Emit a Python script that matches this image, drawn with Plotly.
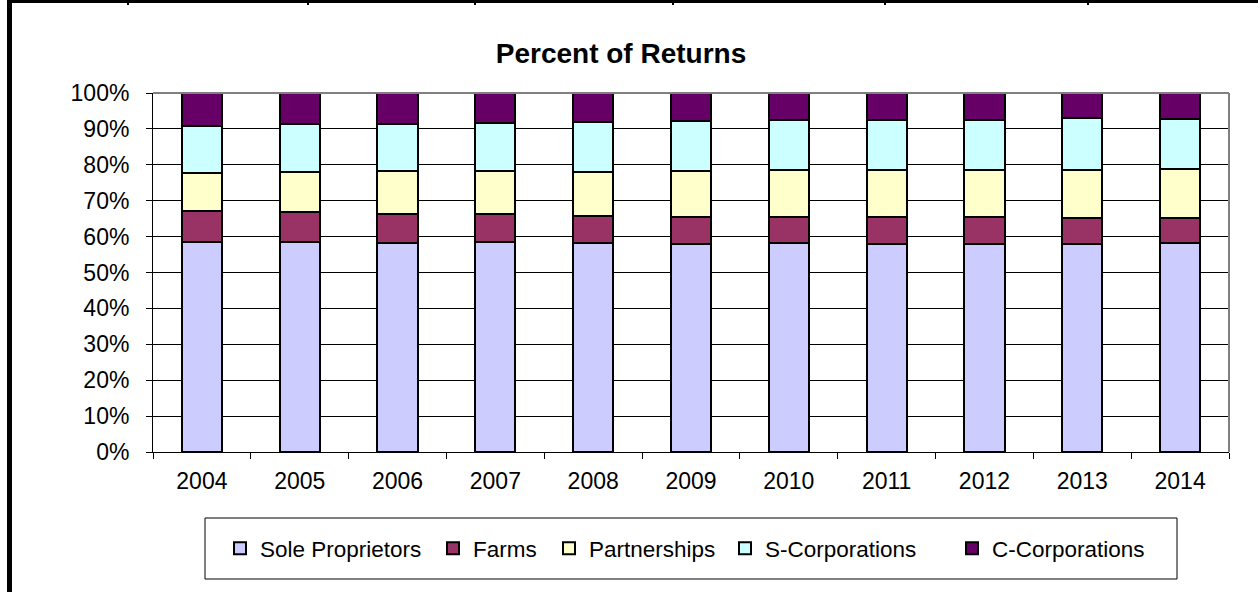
import plotly.graph_objects as go

years = ["2004", "2005", "2006", "2007", "2008", "2009", "2010", "2011", "2012", "2013", "2014"]
sole_proprietors = [58.4, 58.4, 58.3, 58.5, 58.1, 57.9, 58.1, 57.9, 57.9, 57.9, 58.2]
farms = [8.8, 8.5, 8.0, 7.8, 7.7, 7.6, 7.5, 7.6, 7.5, 7.4, 7.1]
partnerships = [10.5, 11.0, 11.9, 12.1, 12.2, 12.9, 13.0, 13.1, 13.2, 13.3, 13.5]
s_corporations = [13.1, 13.4, 13.3, 13.3, 13.8, 13.7, 13.8, 13.9, 14.0, 14.3, 14.0]
c_corporations = [9.2, 8.7, 8.5, 8.3, 8.2, 7.9, 7.6, 7.5, 7.4, 7.1, 7.2]

series = [
    ("Sole Proprietors", sole_proprietors, "#CCCCFF"),
    ("Farms", farms, "#993366"),
    ("Partnerships", partnerships, "#FFFFCC"),
    ("S-Corporations", s_corporations, "#CCFFFF"),
    ("C-Corporations", c_corporations, "#660066"),
]
# where each legend entry's text starts (px), one legend per series
legend_text_x = [260, 473, 589, 765, 992]

W, H = 1258, 592
L, R, T, B = 153, 29, 93, 140
pw, ph = W - L - R, H - T - B


# pixel -> paper coords, for the decorations drawn around the chart
def px(x):
    return (x - L) / pw


def py(y):
    return (H - B - y) / ph


fig = go.Figure()
for i, (name, vals, col) in enumerate(series):
    fig.add_trace(go.Bar(x=years, y=vals, name=name, marker_color=col,
                         marker_line=dict(color="black", width=2),
                         legend="legend" if i == 0 else "legend%d" % (i + 1)))

shapes = []
# plot-area border (grey top and right)
shapes.append(dict(type="line", xref="paper", yref="paper", x0=0, x1=1, y0=1, y1=1,
                   line=dict(color="#808080", width=2)))
shapes.append(dict(type="line", xref="paper", yref="paper", x0=1, x1=1, y0=0, y1=1,
                   line=dict(color="#808080", width=2)))
# legend frame
shapes.append(dict(type="rect", xref="paper", yref="paper", x0=px(205), x1=px(1177),
                   y0=py(579), y1=py(518), line=dict(color="black", width=1)))
# spreadsheet cell borders around the chart
shapes.append(dict(type="rect", xref="paper", yref="paper", x0=px(7), x1=px(12),
                   y0=py(592), y1=py(0), fillcolor="black", line=dict(width=0)))
shapes.append(dict(type="rect", xref="paper", yref="paper", x0=px(7), x1=px(1258),
                   y0=py(3), y1=py(0), fillcolor="black", line=dict(width=0)))
for xd in [128, 308, 475, 673, 885, 1088]:
    shapes.append(dict(type="rect", xref="paper", yref="paper", x0=px(xd - 1), x1=px(xd + 1),
                       y0=py(5), y1=py(0), fillcolor="black", line=dict(width=0)))

layout_legends = {}
for i, tx in enumerate(legend_text_x):
    key = "legend" if i == 0 else "legend%d" % (i + 1)
    layout_legends[key] = dict(orientation="h", x=px(tx - 40), xanchor="left",
                               y=py(548.5), yanchor="middle", font=dict(size=22.5),
                               itemwidth=30, bgcolor="rgba(0,0,0,0)", borderwidth=0)

fig.update_layout(
    width=W, height=H,
    margin=dict(l=L, r=R, t=T, b=B),
    barmode="stack",
    bargap=0.59,
    paper_bgcolor="white",
    plot_bgcolor="white",
    font=dict(family="Liberation Sans, Arial, sans-serif", color="black"),
    title=dict(text="<b>Percent of Returns</b>", x=621 / W, xanchor="center",
               y=1 - 53 / H, yanchor="middle", font=dict(size=28, color="black")),
    shapes=shapes,
    showlegend=True,
    **layout_legends,
)
fig.update_xaxes(showline=True, linecolor="black", linewidth=1, ticks="outside",
                 tickson="boundaries", ticklen=6, tickcolor="black",
                 tickfont=dict(size=23), ticklabelstandoff=8, showgrid=False)
fig.update_yaxes(range=[0, 100], dtick=10, ticksuffix="%", showline=True, linecolor="black",
                 linewidth=1, ticks="outside", ticklen=6, tickcolor="black",
                 tickfont=dict(size=23), ticklabelstandoff=12, showgrid=True,
                 gridcolor="black", gridwidth=1, zeroline=False)

# page body margin would push the figure 8px off the window
fig.write_html("out.html", config={"displayModeBar": False},
               post_script="document.body.style.margin='0';")
